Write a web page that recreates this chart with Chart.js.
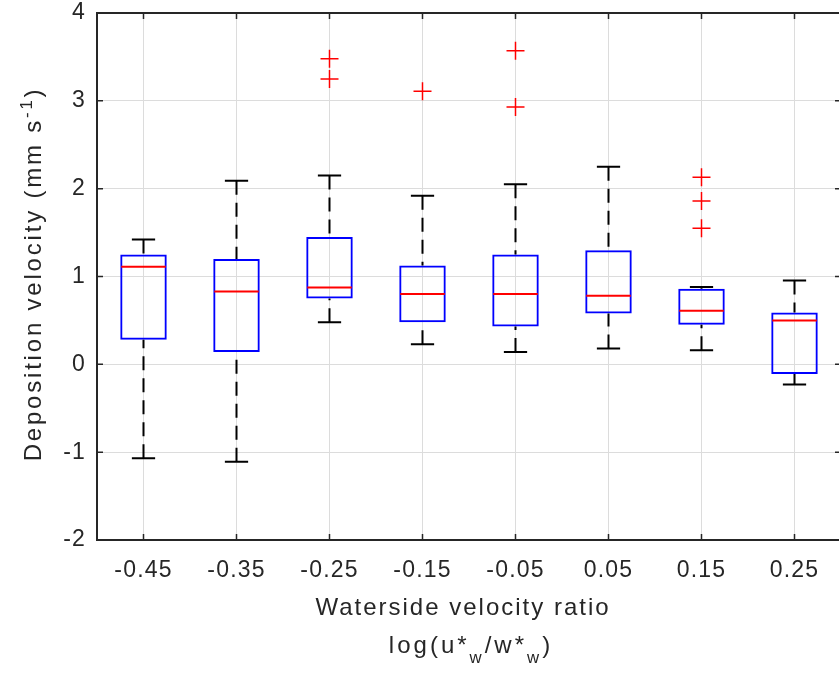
<!DOCTYPE html>
<html lang="en">
<head>
<meta charset="UTF-8">
<title>Deposition velocity vs waterside velocity ratio</title>
<style>
  body { margin: 0; background: #fff; overflow: hidden; }
  #wrap { width: 841px; height: 676px; }
</style>
<script src="https://cdn.jsdelivr.net/npm/chart.js"></script>
</head>
<body>
<div id="wrap"><canvas id="box-chart" width="841" height="676"></canvas></div>
<script>
// box statistics per bin of log(u*w/w*w)
const categories = ['-0.45', '-0.35', '-0.25', '-0.15', '-0.05', '0.05', '0.15', '0.25'];
const q1 = [0.28, 0.14, 0.75, 0.48, 0.43, 0.58, 0.45, -0.11];
const q3 = [1.25, 1.20, 1.45, 1.125, 1.25, 1.30, 0.86, 0.59];
const medians = [1.11, 0.83, 0.875, 0.80, 0.80, 0.78, 0.61, 0.50];
const whiskerLow = [-1.07, -1.11, 0.48, 0.23, 0.14, 0.18, 0.16, -0.23];
const whiskerHigh = [1.42, 2.09, 2.15, 1.92, 2.05, 2.25, 0.88, 0.955];
const outlierCats = ['-0.25', '-0.25', '-0.15', '-0.05', '-0.05', '0.15', '0.15', '0.15'];
const outlierValues = [3.48, 3.25, 3.11, 3.57, 2.93, 2.13, 1.86, 1.55];
const yTicks = [-2, -1, 0, 1, 2, 3, 4];

const axisColor = '#262626';
const fontFamily = '"Liberation Sans", Arial, sans-serif';

// draws text pieces in a row, with sub/superscripts
function drawPieces(ctx, pieces, x, y, size) {
  let total = 0;
  pieces.forEach(p => {
    ctx.font = (p.shift ? size * 0.7 : size) + 'px ' + fontFamily;
    p.w = ctx.measureText(p.t).width;
    total += p.w;
  });
  let cx = x - total / 2;
  pieces.forEach(p => {
    ctx.font = (p.shift ? size * 0.7 : size) + 'px ' + fontFamily;
    ctx.fillText(p.t, cx, y + (p.shift || 0));
    cx += p.w;
  });
}

// no extra room for overhanging tick labels, the axes box is fixed
function noLabelPadding(scale) {
  scale.paddingTop = 0;
  scale.paddingBottom = 0;
  scale.paddingLeft = 0;
  scale.paddingRight = 0;
}

const boxplotParts = {
  id: 'boxplotParts',
  beforeLayout(chart) { chart.ctx.letterSpacing = '1.2px'; },
  beforeDraw(chart) { chart.ctx.letterSpacing = '1.2px'; },
  afterDatasetsDraw(chart) {
    const { ctx, scales: { x, y } } = chart;
    const step = x.getPixelForValue(1) - x.getPixelForValue(0);
    const capHalf = step * 0.125;
    ctx.save();
    categories.forEach((c, i) => {
      const cx = x.getPixelForValue(i);
      // whiskers, drawn from cap towards box
      ctx.strokeStyle = '#000';
      ctx.lineWidth = 2;
      ctx.setLineDash([14, 8]);
      ctx.beginPath();
      ctx.moveTo(cx, y.getPixelForValue(whiskerHigh[i]));
      ctx.lineTo(cx, y.getPixelForValue(q3[i]));
      ctx.moveTo(cx, y.getPixelForValue(whiskerLow[i]));
      ctx.lineTo(cx, y.getPixelForValue(q1[i]));
      ctx.stroke();
      ctx.setLineDash([]);
      // caps
      ctx.beginPath();
      [whiskerHigh[i], whiskerLow[i]].forEach(v => {
        const py = y.getPixelForValue(v);
        ctx.moveTo(cx - capHalf, py);
        ctx.lineTo(cx + capHalf, py);
      });
      ctx.stroke();
      // median
      const my = y.getPixelForValue(medians[i]);
      ctx.strokeStyle = '#ff0000';
      ctx.beginPath();
      ctx.moveTo(cx - step * 0.25 + 1, my);
      ctx.lineTo(cx + step * 0.25 - 1, my);
      ctx.stroke();
    });
    ctx.restore();
  },
  afterDraw(chart) {
    const { ctx, chartArea: a, scales: { x, y } } = chart;
    ctx.save();
    ctx.strokeStyle = axisColor;
    ctx.lineWidth = 1.5;
    // inward tick marks
    ctx.beginPath();
    yTicks.forEach(v => {
      const py = y.getPixelForValue(v);
      ctx.moveTo(a.left, py); ctx.lineTo(a.left + 6, py);
      ctx.moveTo(a.right, py); ctx.lineTo(a.right - 6, py);
    });
    categories.forEach((c, i) => {
      const px = x.getPixelForValue(i);
      ctx.moveTo(px, a.bottom); ctx.lineTo(px, a.bottom - 6);
      ctx.moveTo(px, a.top); ctx.lineTo(px, a.top + 6);
    });
    ctx.stroke();
    // axes box
    ctx.lineWidth = 2;
    ctx.strokeRect(a.left, a.top, a.right - a.left, a.bottom - a.top);

    // axis titles
    ctx.fillStyle = axisColor;
    ctx.textBaseline = 'alphabetic';
    ctx.textAlign = 'left';
    ctx.letterSpacing = '2px';
    drawPieces(ctx, [{ t: 'Waterside velocity ratio' }], 463, 615, 24);
    ctx.letterSpacing = '3px';
    drawPieces(ctx, [
      { t: 'log(u*' }, { t: 'w', shift: 10 }, { t: '/w*' }, { t: 'w', shift: 10 }, { t: ')' }
    ], 471, 653, 24);

    ctx.letterSpacing = '2.8px';
    ctx.translate(41, 274);
    ctx.rotate(-Math.PI / 2);
    drawPieces(ctx, [
      { t: 'Deposition velocity (mm s' }, { t: '-1', shift: -9 }, { t: ')' }
    ], 0, 0, 24);
    ctx.restore();
  }
};

new Chart(document.getElementById('box-chart'), {
  type: 'bar',
  data: {
    labels: categories,
    datasets: [{
      label: 'IQR',
      data: q1.map((v, i) => [v, q3[i]]),
      backgroundColor: 'rgba(0,0,0,0)',
      borderColor: '#0000ff',
      borderWidth: 2,
      borderSkipped: false,
      barPercentage: 0.5,
      categoryPercentage: 1
    }, {
      type: 'line',
      label: 'Outliers',
      data: outlierValues.map((v, i) => ({ x: outlierCats[i], y: v })),
      showLine: false,
      pointStyle: 'cross',
      pointRadius: 9,
      pointBorderColor: '#ff0000',
      pointBorderWidth: 1.5,
      borderColor: '#ff0000'
    }]
  },
  options: {
    responsive: false,
    animation: false,
    layout: { autoPadding: false, padding: { top: 13, right: 0, left: 0, bottom: 0 } },
    plugins: { legend: { display: false }, tooltip: { enabled: false } },
    scales: {
      x: {
        grid: { color: '#dcdcdc', lineWidth: 1, offset: false, drawTicks: false },
        border: { display: false },
        ticks: { color: axisColor, padding: 17, font: { family: fontFamily, size: 23 } },
        afterFit(scale) { scale.height = 136; noLabelPadding(scale); }
      },
      y: {
        min: -2,
        max: 4,
        grid: { color: '#dcdcdc', lineWidth: 1, drawTicks: false },
        border: { display: false },
        ticks: { stepSize: 1, color: axisColor, padding: 11, font: { family: fontFamily, size: 23 } },
        afterFit(scale) { scale.width = 97; noLabelPadding(scale); }
      }
    }
  },
  plugins: [boxplotParts]
});
</script>
</body>
</html>
